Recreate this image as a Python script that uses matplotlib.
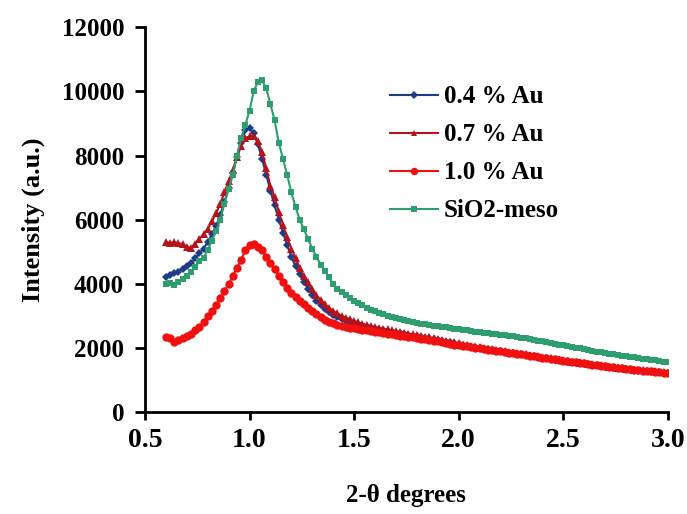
import numpy as np
import matplotlib
matplotlib.use("Agg")
import matplotlib.pyplot as plt

# 2-theta sampling grid (0.60 .. 3.00, step 0.02)
two_theta = np.round(np.linspace(0.60, 3.00, 121), 2)

au_04 = [
    4200, 4280, 4330, 4380, 4450, 4550, 4650, 4800, 4950, 5100,
    5300, 5550, 5800, 6150, 6550, 7000, 7450, 7950, 8400, 8800,
    8850, 8700, 8350, 7900, 7400, 6900, 6450, 6000, 5600, 5200,
    4850, 4550, 4300, 4050, 3850, 3650, 3480, 3350, 3220, 3120,
    3030, 2960, 2900, 2850, 2800, 2760, 2720, 2690, 2660, 2630,
    2600, 2570, 2550, 2530, 2500, 2480, 2460, 2440, 2410, 2390,
    2370, 2350, 2320, 2300, 2280, 2250, 2230, 2200, 2180, 2150,
    2130, 2090, 2070, 2040, 2020, 2000, 1980, 1960, 1940, 1920,
    1900, 1880, 1860, 1840, 1820, 1800, 1780, 1760, 1740, 1720,
    1700, 1680, 1660, 1640, 1620, 1600, 1580, 1560, 1550, 1530,
    1510, 1490, 1470, 1460, 1440, 1420, 1400, 1390, 1370, 1360,
    1340, 1330, 1310, 1300, 1290, 1270, 1260, 1250, 1240, 1220,
    1210,
]

au_07 = [
    5300, 5280, 5300, 5260, 5250, 5150, 5130, 5250, 5400, 5550,
    5700, 5950, 6200, 6500, 6850, 7200, 7550, 7950, 8300, 8550,
    8600, 8600, 8450, 8100, 7600, 7050, 6700, 6250, 5850, 5450,
    5100, 4800, 4500, 4250, 4050, 3850, 3650, 3500, 3370, 3250,
    3150, 3080, 3010, 2950, 2900, 2850, 2800, 2760, 2720, 2690,
    2660, 2630, 2600, 2580, 2550, 2530, 2500, 2480, 2450, 2430,
    2400, 2380, 2350, 2330, 2300, 2280, 2250, 2230, 2200, 2180,
    2150, 2110, 2090, 2060, 2040, 2020, 2000, 1980, 1960, 1940,
    1920, 1900, 1880, 1860, 1840, 1820, 1800, 1780, 1760, 1740,
    1720, 1700, 1680, 1660, 1640, 1620, 1600, 1580, 1570, 1550,
    1530, 1510, 1490, 1480, 1460, 1440, 1420, 1410, 1390, 1380,
    1360, 1350, 1330, 1320, 1310, 1290, 1280, 1270, 1260, 1240,
    1230,
]

au_10 = [
    2330, 2300, 2200, 2250, 2320, 2380, 2450, 2550, 2650, 2800,
    3000, 3150, 3350, 3550, 3780, 4000, 4250, 4500, 4750, 5050,
    5200, 5250, 5150, 5050, 4850, 4650, 4450, 4250, 4050, 3880,
    3720, 3600, 3480, 3370, 3260, 3160, 3060, 2970, 2890, 2820,
    2770, 2730, 2690, 2660, 2630, 2610, 2590, 2570, 2550, 2530,
    2510, 2490, 2470, 2450, 2430, 2410, 2390, 2370, 2350, 2330,
    2310, 2290, 2270, 2250, 2230, 2210, 2180, 2160, 2130, 2110,
    2080, 2070, 2050, 2030, 2010, 1990, 1970, 1950, 1940, 1920,
    1900, 1880, 1860, 1840, 1820, 1800, 1780, 1760, 1740, 1720,
    1700, 1680, 1660, 1650, 1630, 1610, 1590, 1570, 1560, 1540,
    1520, 1500, 1480, 1470, 1450, 1430, 1410, 1400, 1380, 1370,
    1350, 1340, 1320, 1310, 1300, 1280, 1270, 1260, 1250, 1230,
    1220,
]

sio2_meso = [
    4000, 4020, 3980, 4060, 4150, 4250, 4380, 4520, 4700, 4820,
    5050, 5350, 5650, 6000, 6500, 6950, 7400, 8000, 8550, 8950,
    9400, 10000, 10300, 10350, 10100, 9600, 9100, 8400, 7900, 7400,
    6850, 6400, 6000, 5700, 5400, 5100, 4850, 4600, 4400, 4200,
    4000, 3850, 3750, 3650, 3570, 3480, 3400, 3330, 3250, 3200,
    3150, 3100, 3060, 3010, 2970, 2940, 2900, 2870, 2840, 2810,
    2790, 2760, 2740, 2720, 2700, 2690, 2660, 2650, 2620, 2600,
    2590, 2570, 2550, 2530, 2510, 2490, 2470, 2460, 2440, 2430,
    2410, 2400, 2390, 2370, 2350, 2320, 2300, 2270, 2250, 2230,
    2210, 2180, 2160, 2130, 2100, 2080, 2060, 2030, 2010, 1990,
    1960, 1940, 1920, 1890, 1870, 1840, 1820, 1800, 1780, 1760,
    1740, 1720, 1710, 1690, 1670, 1650, 1630, 1620, 1600, 1580,
    1560,
]

labels = ["0.4 % Au", "0.7 % Au", "1.0 % Au", "SiO2-meso"]
series = [au_04, au_07, au_10, sio2_meso]
colors = ["#1f3c88", "#b5121b", "#f01010", "#2f9e6f"]
markers = ["D", "^", "o", "s"]
msizes = [4.5, 5.5, 6.0, 5.0]

plt.rcParams["font.family"] = ["Liberation Serif", "DejaVu Serif"]
plt.rcParams["font.weight"] = "bold"

fig = plt.figure(figsize=(6.87, 5.14), dpi=100)
ax = fig.add_axes([0.211, 0.198, 0.761, 0.749])

for y, lab, c, m, ms in zip(series, labels, colors, markers, msizes):
    ax.plot(two_theta, y, color=c, marker=m, markersize=ms, linewidth=1.5,
            markeredgewidth=0, label=lab)

ax.set_xlim(0.5, 3.0)
ax.set_ylim(0, 12000)
ax.set_xticks([0.5, 1.0, 1.5, 2.0, 2.5, 3.0])
ax.set_xticklabels(["0.5", "1.0", "1.5", "2.0", "2.5", "3.0"])
ax.set_yticks(np.arange(0, 12001, 2000))

ax.spines[["top", "right"]].set_visible(False)
ax.spines["left"].set_linewidth(2.0)
ax.spines["bottom"].set_linewidth(2.0)
ax.tick_params(axis="both", width=2.0, direction="out")
ax.tick_params(axis="y", labelsize=18, length=7, pad=8)
ax.tick_params(axis="x", labelsize=20, length=6, pad=5)

ax.set_xlabel("2-θ degrees", fontsize=18, fontweight="bold", labelpad=23)
ax.set_ylabel("Intensity (a.u.)", fontsize=19, fontweight="bold", labelpad=12)

leg = ax.legend(loc="upper left", bbox_to_anchor=(0.45, 0.875), frameon=False,
                fontsize=18, handlelength=1.9, labelspacing=0.6,
                handletextpad=0.25, borderaxespad=0, markerscale=0.9)
for txt in leg.get_texts():
    txt.set_fontweight("bold")

fig.savefig("out.png", dpi=100)
